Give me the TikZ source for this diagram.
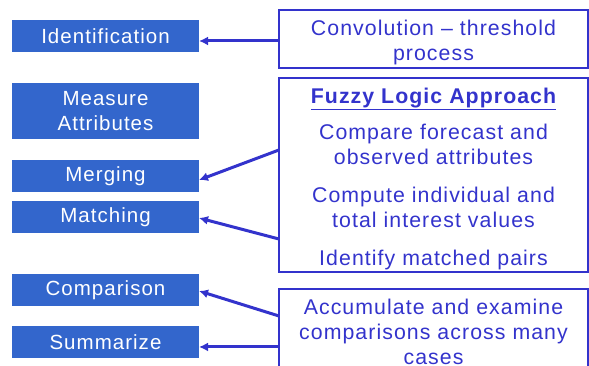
\documentclass[tikz,border=0pt]{standalone}
\usepackage{fontspec}
\setmainfont{Liberation Sans}[LetterSpace=5]
\usetikzlibrary{positioning,calc,arrows.meta}
\definecolor{boxblue}{RGB}{51,102,204}
\definecolor{inkblue}{RGB}{51,51,204}

\begin{document}
\begin{tikzpicture}[x=1pt,y=-1pt,
        stage/.style={
                rectangle,
                fill=boxblue,
                text=white,
                minimum width=187pt,
                minimum height=32pt,
                inner sep=0pt,
                outer sep=0pt,
                align=center
            },
        note/.style={
                rectangle,
                draw=inkblue,
                line width=2pt,
                text=inkblue,
                minimum width=309pt,
                inner sep=0pt,
                outer sep=0pt,
                align=center,
                font=\fontsize{21.3}{25}\selectfont
            },
        feed/.style={
                ->,
                draw=inkblue,
                line width=3pt
            },
        >={Latex[length=9pt,width=9pt]},
        font=\fontsize{20.5}{25}\selectfont
    ]
    \clip (0,0) rectangle (589,366);

    % left column of steps
    \node[stage] (Identification) at (105.5,36) {Identification};
    \node[stage, minimum height=56pt] (Measure) [below=31pt of Identification] {Measure\\Attributes};
    \node[stage] (Merging) [below=21pt of Measure] {Merging};
    \node[stage] (Matching) [below=9pt of Merging] {Matching};
    \node[stage] (Comparison) [below=41pt of Matching] {Comparison};
    \node[stage] (Summarize) [below=20pt of Comparison] {Summarize};

    % right column of notes
    \node[note, minimum height=58pt] (Convolution) [right=80pt of Identification, yshift=-3pt] {\rule{0pt}{22pt}Convolution -- threshold\\process};
    \node[note, minimum height=194pt] (Fuzzy) [below=10pt of Convolution] {\rule{0pt}{23pt}{\bfseries\underline{Fuzzy Logic Approach}}\\[11pt]
        Compare forecast and\\observed attributes\\[13pt]
        Compute individual and\\total interest values\\[13pt]
        Identify matched pairs};
    \node[note, minimum height=86pt] (Accumulate) [below=17pt of Fuzzy] {Accumulate and examine\\comparisons across many\\cases};

    \coordinate (FuzzyA) at ($(Fuzzy.north west)!0.371!(Fuzzy.south west)$);
    \coordinate (FuzzyB) at ($(Fuzzy.north west)!0.83!(Fuzzy.south west)$);
    \coordinate (AccA) at ($(Accumulate.north west)!0.314!(Accumulate.south west)$);
    \coordinate (AccB) at ($(Accumulate.north west)!0.674!(Accumulate.south west)$);

    \draw[feed] ([yshift=-2pt]Convolution.west) -- ([yshift=-2pt]Convolution.west -| Identification.east);
    \draw[feed] (FuzzyA) -- ([yshift=-4pt]Merging.east);
    \draw[feed] (FuzzyB) -- ([yshift=-1pt]Matching.east);
    \draw[feed] (AccA) -- ([yshift=-1pt]Comparison.east);
    \draw[feed] (AccB) -- (AccB -| Summarize.east);
\end{tikzpicture}
\end{document}
